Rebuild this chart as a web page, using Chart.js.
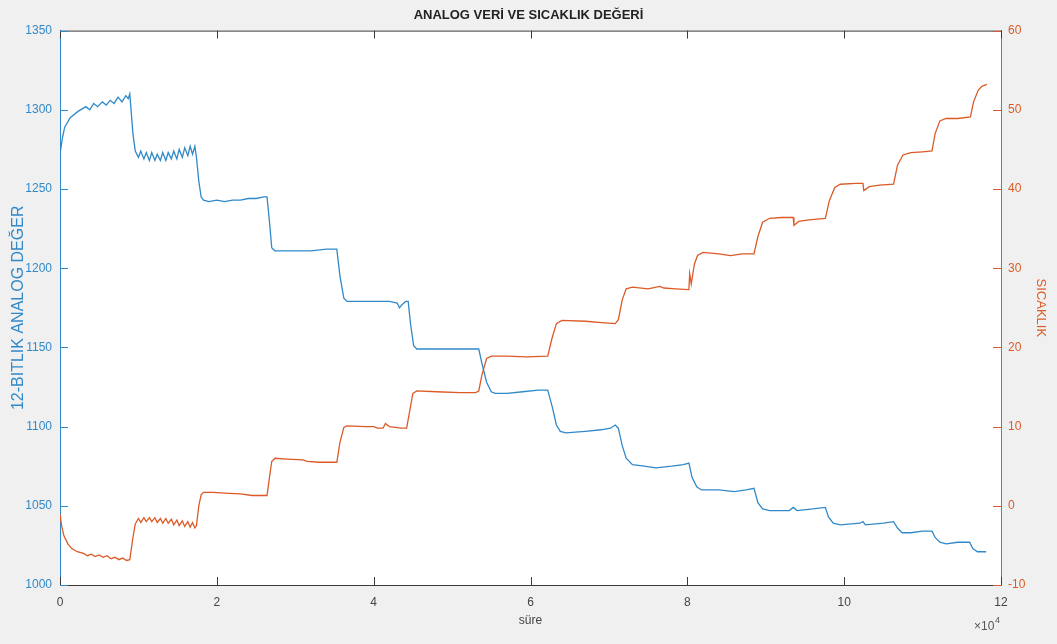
<!DOCTYPE html>
<html>
<head>
<meta charset="utf-8">
<script src="https://cdn.jsdelivr.net/npm/chart.js@4/dist/chart.umd.min.js"></script>
<style>
  html, body { margin: 0; padding: 0; background: #f0f0f0; }
  #wrap { width: 1057px; height: 644px; position: relative; }
</style>
</head>
<body>
<div id="wrap"><canvas id="grafik"></canvas></div>
<script>
// süre değerleri x10^4 biriminde
const analogSure = [0.00, 0.03, 0.06, 0.13, 0.23, 0.33, 0.38, 0.43, 0.48, 0.54, 0.59, 0.64, 0.69, 0.74, 0.79, 0.84, 0.87, 0.89, 0.93, 0.96,
  1.00, 1.03, 1.07, 1.10, 1.14, 1.17, 1.21, 1.24, 1.28, 1.31, 1.35, 1.38, 1.42, 1.45, 1.49, 1.52, 1.56, 1.59, 1.63, 1.66, 1.69, 1.72, 1.74,
  1.77, 1.80, 1.83, 1.90, 2.00, 2.10, 2.20, 2.30, 2.40, 2.50, 2.60, 2.64,
  2.67, 2.70, 2.74, 3.00, 3.20, 3.40, 3.53,
  3.57, 3.62, 3.66, 3.90, 4.20, 4.30, 4.33, 4.36, 4.41, 4.44,
  4.47, 4.51, 4.55, 4.80, 5.10, 5.30, 5.34,
  5.38, 5.44, 5.50, 5.55, 5.70, 5.90, 6.10, 6.22,
  6.28, 6.33, 6.38, 6.45, 6.70, 6.90, 7.02, 7.08, 7.12,
  7.17, 7.22, 7.30, 7.45, 7.60, 7.80, 7.95, 8.02,
  8.06, 8.12, 8.18, 8.40, 8.60, 8.75, 8.85,
  8.90, 8.96, 9.05, 9.30, 9.35, 9.40, 9.60, 9.76,
  9.80, 9.86, 9.95, 10.20, 10.24, 10.27, 10.50, 10.63,
  10.68, 10.74, 10.85, 11.00, 11.12,
  11.16, 11.22, 11.30, 11.45, 11.60,
  11.64, 11.70, 11.81];
const analogDeger = [1272, 1282, 1289, 1295, 1299, 1302, 1300, 1304, 1302, 1305, 1303, 1306, 1304, 1308, 1305, 1309, 1307, 1310, 1285, 1274,
  1270, 1274, 1269, 1273, 1268, 1273, 1268, 1272, 1268, 1273, 1268, 1273, 1269, 1274, 1269, 1275, 1270, 1276, 1271, 1277, 1272, 1277, 1270,
  1255, 1245, 1243, 1242, 1243, 1242, 1243, 1243, 1244, 1244, 1245, 1245,
  1230, 1213, 1211, 1211, 1211, 1212, 1212,
  1195, 1181, 1179, 1179, 1179, 1178, 1175, 1177, 1179, 1179,
  1165, 1151, 1149, 1149, 1149, 1149, 1149,
  1140, 1128, 1122, 1121, 1121, 1122, 1123, 1123,
  1112, 1101, 1097, 1096, 1097, 1098, 1099, 1101, 1099,
  1088, 1080, 1076, 1075, 1074, 1075, 1076, 1077,
  1068, 1062, 1060, 1060, 1059, 1060, 1061,
  1052, 1048, 1047, 1047, 1049, 1047, 1048, 1049,
  1043, 1039, 1038, 1039, 1040, 1038, 1039, 1040,
  1036, 1033, 1033, 1034, 1034,
  1030, 1027, 1026, 1027, 1027,
  1023, 1021, 1021];

const sicaklikSure = [0.00, 0.02, 0.05, 0.10, 0.15, 0.22, 0.30, 0.35, 0.40, 0.45, 0.50, 0.55, 0.60, 0.65, 0.70, 0.75, 0.80, 0.85, 0.89, 0.93, 0.96,
  1.00, 1.03, 1.07, 1.10, 1.14, 1.17, 1.21, 1.24, 1.28, 1.31, 1.35, 1.38, 1.42, 1.45, 1.49, 1.52, 1.56, 1.59, 1.63, 1.66, 1.69, 1.72, 1.74,
  1.77, 1.80, 1.83, 1.95, 2.10, 2.30, 2.45, 2.64,
  2.67, 2.70, 2.74, 2.90, 3.10, 3.15, 3.30, 3.53,
  3.57, 3.62, 3.66, 3.90, 4.00, 4.05, 4.12, 4.15, 4.20, 4.35, 4.42,
  4.46, 4.50, 4.55, 4.80, 5.10, 5.30, 5.34,
  5.38, 5.44, 5.50, 5.70, 5.95, 6.22,
  6.27, 6.33, 6.40, 6.70, 6.95, 7.08, 7.12,
  7.17, 7.22, 7.30, 7.50, 7.65, 7.70, 7.85, 8.02, 8.03, 8.05,
  8.09, 8.13, 8.20, 8.40, 8.55, 8.70, 8.85,
  8.90, 8.96, 9.05, 9.20, 9.35, 9.36, 9.42, 9.55, 9.76,
  9.81, 9.88, 9.95, 10.15, 10.24, 10.25, 10.32, 10.45, 10.63,
  10.68, 10.75, 10.85, 11.00, 11.12,
  11.16, 11.22, 11.30, 11.45, 11.61,
  11.65, 11.71, 11.76, 11.82];
const sicaklikDeger = [-1.0, -2.5, -3.8, -4.8, -5.4, -5.8, -6.0, -6.3, -6.1, -6.4, -6.2, -6.5, -6.3, -6.7, -6.5, -6.8, -6.6, -6.9, -6.8, -4.0, -2.3,
  -1.6, -2.1, -1.5, -2.0, -1.5, -2.0, -1.5, -2.1, -1.6, -2.2, -1.6, -2.2, -1.7, -2.4, -1.8, -2.5, -1.9, -2.6, -2.0, -2.7, -2.1, -2.8, -2.5,
  0.0, 1.4, 1.7, 1.7, 1.6, 1.5, 1.3, 1.3,
  3.5, 5.6, 6.0, 5.9, 5.8, 5.6, 5.5, 5.5,
  8.0, 9.9, 10.1, 10.0, 10.0, 9.8, 9.8, 10.4, 10.0, 9.8, 9.8,
  12.0, 14.2, 14.5, 14.4, 14.3, 14.3, 14.5,
  16.5, 18.6, 18.9, 18.9, 18.8, 18.9,
  21.0, 23.0, 23.4, 23.3, 23.1, 23.0, 23.5,
  26.0, 27.4, 27.6, 27.4, 27.7, 27.5, 27.4, 27.3, 29.3, 28.0,
  30.5, 31.6, 32.0, 31.8, 31.6, 31.8, 31.8,
  34.0, 35.8, 36.3, 36.4, 36.4, 35.4, 35.9, 36.1, 36.3,
  38.5, 40.2, 40.6, 40.7, 40.7, 39.8, 40.3, 40.5, 40.6,
  43.0, 44.3, 44.6, 44.7, 44.8,
  47.0, 48.6, 48.9, 48.9, 49.1,
  51.0, 52.5, 53.0, 53.2];

const xTikler = [0, 2, 4, 6, 8, 10, 12];

const MAVI = '#3089c9';
const TURUNCU = '#dc5a26';
const KOYU = '#3a3a3a';
const FONT = '"Liberation Sans", Arial, sans-serif';

const analogNoktalar = analogSure.map((s, i) => ({ x: s, y: analogDeger[i] }));
const sicaklikNoktalar = sicaklikSure.map((s, i) => ({ x: s, y: sicaklikDeger[i] }));

// Matlab tarzı içe bakan tikler, üst çerçeve ve x10^4 yazısı
const matlabEksen = {
  id: 'matlabEksen',
  beforeDraw(chart) {
    const { ctx, chartArea: a } = chart;
    ctx.save();
    ctx.fillStyle = '#ffffff';
    ctx.fillRect(a.left, a.top, a.right - a.left, a.bottom - a.top);
    ctx.restore();
  },
  afterDraw(chart) {
    const { ctx, chartArea: a, scales } = chart;
    const tl = 8;
    ctx.save();
    ctx.lineWidth = 1;
    // üst çerçeve
    ctx.strokeStyle = KOYU;
    ctx.beginPath();
    ctx.moveTo(a.left, a.top + 0.5);
    ctx.lineTo(a.right, a.top + 0.5);
    ctx.stroke();
    // x tikleri (alt ve üst)
    xTikler.forEach(v => {
      const px = Math.round(scales.x.getPixelForValue(v)) + 0.5;
      ctx.beginPath();
      ctx.moveTo(px, a.bottom);
      ctx.lineTo(px, a.bottom - tl);
      ctx.moveTo(px, a.top);
      ctx.lineTo(px, a.top + tl);
      ctx.stroke();
    });
    // sol eksen tikleri
    ctx.strokeStyle = MAVI;
    scales.y.ticks.forEach(t => {
      const py = Math.round(scales.y.getPixelForValue(t.value)) + 0.5;
      ctx.beginPath();
      ctx.moveTo(a.left, py);
      ctx.lineTo(a.left + tl, py);
      ctx.stroke();
    });
    // sağ eksen tikleri
    ctx.strokeStyle = TURUNCU;
    scales.y2.ticks.forEach(t => {
      const py = Math.round(scales.y2.getPixelForValue(t.value)) + 0.5;
      ctx.beginPath();
      ctx.moveTo(a.right, py);
      ctx.lineTo(a.right - tl, py);
      ctx.stroke();
    });
    // x10^4
    ctx.fillStyle = '#555555';
    ctx.textBaseline = 'alphabetic';
    ctx.font = '12px ' + FONT;
    ctx.textAlign = 'left';
    ctx.fillText('\u00d710', 974, 630);
    ctx.font = '9px ' + FONT;
    ctx.fillText('4', 995, 623);
    ctx.restore();
  }
};

new Chart(document.getElementById('grafik'), {
  type: 'line',
  data: {
    datasets: [{
      label: 'Analog',
      data: analogNoktalar,
      yAxisID: 'y',
      borderColor: MAVI,
      borderWidth: 1.3,
      pointRadius: 0,
      tension: 0,
      fill: false
    }, {
      label: 'Sıcaklık',
      data: sicaklikNoktalar,
      yAxisID: 'y2',
      borderColor: TURUNCU,
      borderWidth: 1.3,
      pointRadius: 0,
      tension: 0,
      fill: false
    }]
  },
  options: {
    responsive: true,
    maintainAspectRatio: false,
    animation: false,
    layout: { padding: 0 },
    plugins: {
      legend: { display: false },
      tooltip: { enabled: false },
      title: {
        display: true,
        text: 'ANALOG VERİ VE SICAKLIK DEĞERİ',
        color: '#222222',
        font: { family: FONT, size: 13, weight: 'bold' },
        padding: { top: 8, bottom: 7 }
      }
    },
    scales: {
      x: {
        type: 'linear',
        min: 0,
        max: 12,
        afterFit: s => { s.height = 59; },
        afterBuildTicks: s => { s.ticks = xTikler.map(v => ({ value: v })); },
        grid: { display: false, drawTicks: false },
        border: { display: true, color: KOYU, width: 1 },
        ticks: {
          color: '#444444',
          padding: 10,
          maxRotation: 0,
          callback: v => String(v),
          font: { family: FONT, size: 12 }
        },
        title: {
          display: true,
          text: 'süre',
          color: '#444444',
          font: { family: FONT, size: 12 },
          padding: { top: 0, bottom: 16 }
        }
      },
      y: {
        position: 'left',
        min: 1000,
        max: 1350,
        afterFit: s => { s.width = 60; },
        grid: { display: false, drawTicks: false },
        border: { display: true, color: MAVI, width: 1 },
        ticks: {
          stepSize: 50,
          color: MAVI,
          padding: 8,
          callback: v => String(v),
          font: { family: FONT, size: 12 }
        },
        title: {
          display: true,
          text: '12-BITLIK ANALOG DEĞER',
          color: MAVI,
          font: { family: FONT, size: 16 },
          padding: { top: 9, bottom: 0 }
        }
      },
      y2: {
        position: 'right',
        min: -10,
        max: 60,
        afterFit: s => { s.width = 56; },
        grid: { display: false, drawTicks: false },
        border: { display: true, color: TURUNCU, width: 1 },
        ticks: {
          stepSize: 10,
          color: TURUNCU,
          padding: 7,
          callback: v => String(v),
          font: { family: FONT, size: 12 }
        },
        title: {
          display: true,
          text: 'SICAKLIK',
          color: TURUNCU,
          font: { family: FONT, size: 13 },
          padding: { top: 9, bottom: 0 }
        }
      }
    }
  },
  plugins: [matlabEksen]
});
</script>
</body>
</html>
